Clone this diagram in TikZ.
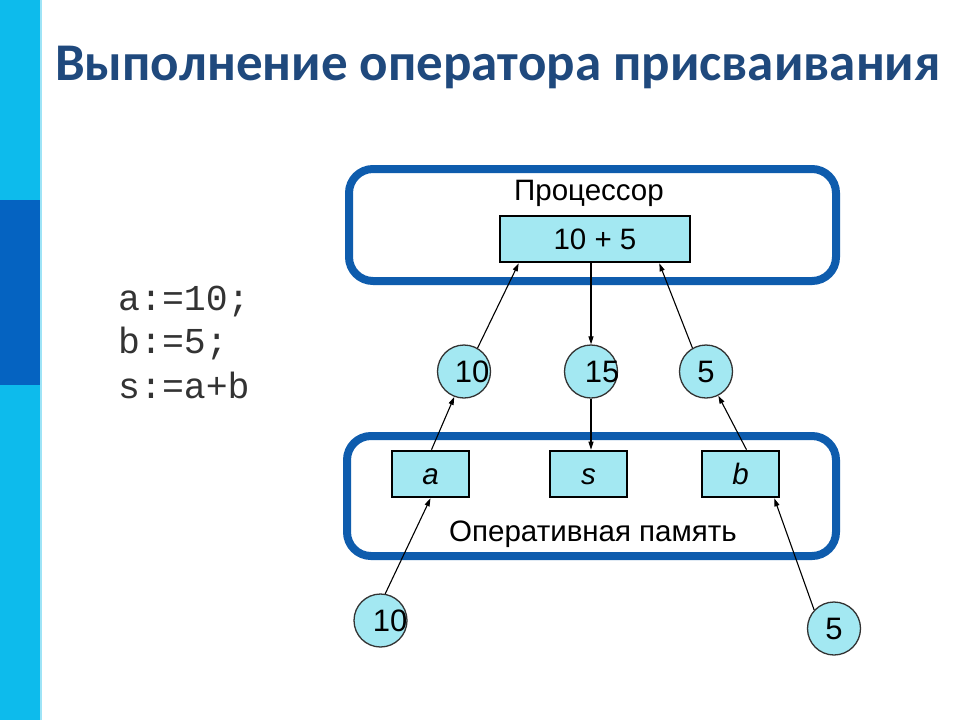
\documentclass[tikz,border=0pt]{standalone}
\usepackage{fontspec}
\setmainfont{Liberation Sans}
\newfontfamily\titlefont{Carlito}
\newfontfamily\codefont{Liberation Mono}
\usetikzlibrary{arrows.meta,calc}
\definecolor{barlight}{HTML}{0DBBEC}
\definecolor{bardark}{HTML}{0563C1}
\definecolor{titleblue}{HTML}{1F497D}
\definecolor{frameblue}{HTML}{0E5CAD}
\definecolor{cellfill}{HTML}{A3E8F2}
\definecolor{codegray}{HTML}{333333}
\tikzset{
  frame/.style={draw=frameblue,line width=8pt,rounded corners=24pt},
  cell/.style={draw=black,line width=2.6pt,fill=cellfill,inner sep=0pt,text height=20pt,text depth=0pt},
  val/.style={circle,draw=black!80,line width=1.3pt,fill=cellfill,minimum size=53pt,inner sep=0pt},
  lbl/.style={font=\fontsize{29.5}{33}\selectfont},
  vtxt/.style={font=\fontsize{31}{35}\selectfont},
  conn/.style={line width=1.1pt,-{Triangle[length=8pt,width=5pt]}}
}
\begin{document}
\begin{tikzpicture}[x=1pt,y=-1pt]
\useasboundingbox (0,0) rectangle (960,720);
\fill[white] (0,0) rectangle (960,720);
% left bar
\fill[barlight] (0,0) rectangle (40,720);
\fill[bardark] (0,200) rectangle (40,385);
\fill[barlight!40] (40,0) rectangle (42,720);
% title
\node[anchor=base west,inner sep=0pt,text=titleblue,font=\titlefont\bfseries\fontsize{53}{60}\selectfont] (title) at (55,80) {Выполнение оператора присваивания};
% code
\node[anchor=base west,inner sep=0pt,text=codegray,font=\codefont\fontsize{36.5}{40}\selectfont] (l1) at (118,310) {a:=10;};
\node[anchor=base west,inner sep=0pt,text=codegray,font=\codefont\fontsize{36.5}{40}\selectfont] (l2) at (118,353) {b:=5;};
\node[anchor=base west,inner sep=0pt,text=codegray,font=\codefont\fontsize{36.5}{40}\selectfont] (l3) at (118,398) {s:=a+b};
% frames
\draw[frame] (349,169) rectangle (836,281);
\node[lbl] (cpu) at (589,193) {Процессор};
\draw[frame] (347,436) rectangle (836,556);
\node[lbl] (ram) at (593,534) {Оперативная память};
% cells
\node[cell,minimum width=190pt,minimum height=46pt,lbl] (sum) at (595,239) {10 + 5};
\node[cell,minimum width=77pt,minimum height=46pt,lbl] (a) at (430.5,474) {\itshape a};
\node[cell,minimum width=77pt,minimum height=46pt,lbl] (s) at (588.5,474) {\itshape s};
\node[cell,minimum width=77pt,minimum height=46pt,lbl] (b) at (740.5,474) {\itshape b};
% values
\node[val] (c10) at (464,371.5) {};
\node[vtxt] (t10) at (472,372) {10};
\node[val] (c15) at (591,371.5) {};
\node[vtxt] (t15) at (602,372) {15};
\node[val] (c5) at (706,371.5) {};
\node[vtxt] (t5) at (706,372) {5};
\node[val] (d10) at (380.5,620.5) {};
\node[vtxt] (u10) at (390,621) {10};
\node[val] (d5) at (834,628.5) {};
\node[vtxt] (u5) at (834,629) {5};
% connectors
\draw[conn] ([xshift=1pt]a.north) -- (c10.249);
\draw[conn] (c10.60) -- ([xshift=20pt]sum.south west);
\draw[conn] (c15.north |- sum.south) -- (c15.north);
\draw[conn] (c15.south) -- (c15.south |- s.north);
\draw[conn] ([xshift=6pt]b.north) -- (c5.297);
\draw[conn] (c5.120) -- ([xshift=-32pt]sum.south east);
\draw[conn] (d10.80) -- (a.south);
\draw[conn] (d5.137) -- ([xshift=-6pt]b.south east);
\end{tikzpicture}
\end{document}
